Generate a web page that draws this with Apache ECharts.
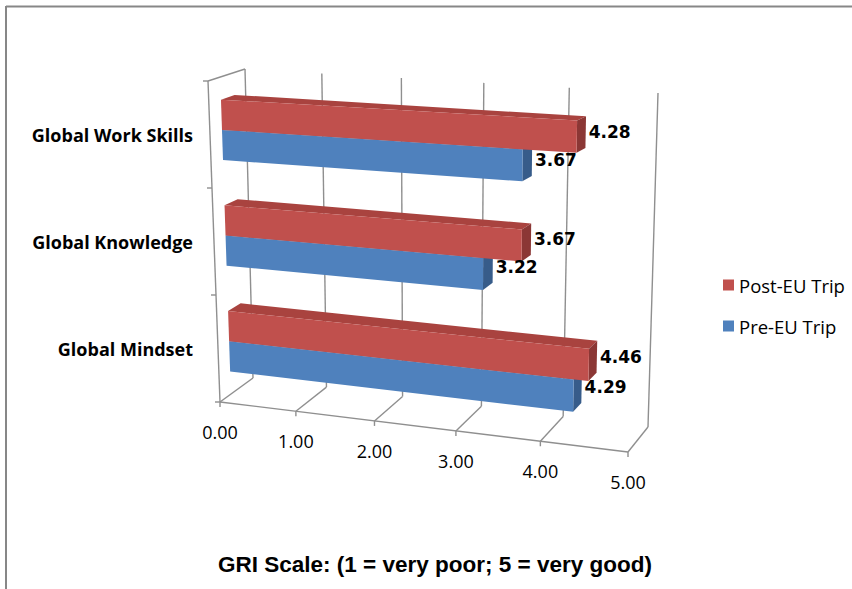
<!DOCTYPE html>
<html><head><meta charset="utf-8">
<script src="https://cdn.jsdelivr.net/npm/echarts@6/dist/echarts.min.js"></script>
<style>html,body{margin:0;padding:0;background:#fff}#c{width:852px;height:589px}</style>
</head><body><div id="c"></div>
<script>
// ---- data ----
const categories = ['Global Mindset', 'Global Knowledge', 'Global Work Skills'];
const postValues = [4.46, 3.67, 4.28];
const preValues = [4.29, 3.22, 3.67];
const valueTicks = [0, 1, 2, 3, 4, 5];
const tickLabels = ['0.00', '1.00', '2.00', '3.00', '4.00', '5.00'];
const seriesNames = ['Post-EU Trip', 'Pre-EU Trip'];
const axisTitle = 'GRI Scale: (1 = very poor; 5 = very good)';

// ---- 3D projection geometry (screen corners of the plot box) ----
const F = {bl: [220, 402], tl: [208, 81], br: [628, 452], tr: [636, 103]};
const B = {bl: [253, 378], tl: [245, 69], br: [648, 427], tr: [658, 93]};
const PERSP = 0.914;
function warp(u) { return u * PERSP / (1 + (PERSP - 1) * u); }
function lerp(a, b, t) { return [a[0] + (b[0] - a[0]) * t, a[1] + (b[1] - a[1]) * t]; }
function bil(Q, u, h) { return lerp(lerp(Q.bl, Q.br, u), lerp(Q.tl, Q.tr, u), h); }
function proj(u, h, d) { const w = warp(u); return lerp(bil(F, w, h), bil(B, w, h), d); }

const BAR_FRAC = 0.2857;
const D0 = 0.33, D1 = 0.70;
const LINE = '#8f8f8f';
const COLORS = {
  post: {front: '#C0504D', top: '#A9433F', end: '#8B3735'},
  pre: {front: '#4F81BD', top: '#416C9F', end: '#375C8A'}
};

function barGeom(params, api, upper) {
  const cs = params.coordSys;
  const v = api.value(0), ci = api.value(1);
  const p0 = api.coord([0, ci]);
  const p1 = api.coord([v, ci]);
  const bh = api.size([0, 1])[1] * BAR_FRAC;
  const yTop = upper ? p0[1] - bh : p0[1];
  const yBot = upper ? p0[1] : p0[1] + bh;
  const toU = x => (x - cs.x) / cs.width;
  const toH = y => 1 - (y - cs.y) / cs.height;
  return {v: v, u0: toU(p0[0]), u1: toU(p1[0]), hT: toH(yTop), hB: toH(yBot)};
}

function barRender(upper) {
  const col = upper ? COLORS.post : COLORS.pre;
  return function (params, api) {
    const g = barGeom(params, api, upper);
    const P = proj;
    const front = [P(g.u0, g.hB, D0), P(g.u1, g.hB, D0), P(g.u1, g.hT, D0), P(g.u0, g.hT, D0)];
    const top = [P(g.u0, g.hT, D0), P(g.u1, g.hT, D0), P(g.u1, g.hT, D1), P(g.u0, g.hT, D1)];
    const end = [P(g.u1, g.hB, D0), P(g.u1, g.hB, D1), P(g.u1, g.hT, D1), P(g.u1, g.hT, D0)];
    return {type: 'group', children: [
      {type: 'polygon', shape: {points: top}, style: {fill: col.top}},
      {type: 'polygon', shape: {points: end}, style: {fill: col.end}},
      {type: 'polygon', shape: {points: front}, style: {fill: col.front}}
    ]};
  };
}

function labelRender(params, api) {
  const upper = api.value(2) === 1;
  const g = barGeom(params, api, upper);
  const p = proj(g.u1, (g.hT + g.hB) / 2, D1);
  return {type: 'text', x: p[0] + 3, y: p[1], style: {
    text: g.v.toFixed(2), fill: '#000', align: 'left', verticalAlign: 'middle',
    fontFamily: 'DejaVu Sans', fontWeight: 'bold', fontSize: 17
  }};
}

function frameRender(params, api) {
  const cs = params.coordSys;
  const idx = params.dataIndex;
  const t = api.value(0);
  const u = (api.coord([t, 0])[0] - cs.x) / cs.width;
  const ls = {stroke: LINE, lineWidth: 1.4, fill: null};
  const L = (a, b) => ({type: 'line', shape: {x1: a[0], y1: a[1], x2: b[0], y2: b[1]}, style: ls});
  const fb = proj(u, 0, 0), bb = proj(u, 0, 1), bt = proj(u, 1, 1);
  const ch = [
    L(fb, bb), L(bb, bt), L(fb, [fb[0], fb[1] + 5]),
    {type: 'text', x: fb[0], y: fb[1] + 30, style: {
      text: tickLabels[idx], fill: '#000', align: 'center', verticalAlign: 'middle',
      fontFamily: 'Open Sans', fontSize: 18
    }}
  ];
  if (idx === 0) {
    const uMax = (api.coord([valueTicks[valueTicks.length - 1], 0])[0] - cs.x) / cs.width;
    const fl0 = proj(0, 0, 0), fl1 = proj(0, 1, 0), bl1 = proj(0, 1, 1), fr0 = proj(uMax, 0, 0);
    ch.push(L(fl0, fl1), L(fl1, bl1), L(fl0, fr0));
    const n = categories.length;
    for (let k = 0; k <= n; k++) {
      const p = proj(0, k / n, 0);
      ch.push(L(p, [p[0] - 5, p[1]]));
    }
  }
  return {type: 'group', children: ch};
}

const chart = echarts.init(document.getElementById('c'), null, {renderer: 'svg'});
chart.setOption({
  animation: false,
  backgroundColor: '#fff',
  grid: {left: 210, top: 81, width: 426, height: 321, containLabel: false},
  xAxis: {type: 'value', min: 0, max: 5, interval: 1, show: false},
  yAxis: {
    type: 'category', data: categories,
    axisLine: {show: false}, axisTick: {show: false}, splitLine: {show: false},
    axisLabel: {
      margin: 17, color: '#000', fontFamily: 'Open Sans', fontWeight: 'bold', fontSize: 18,
      padding: [6, 0, 0, 0]
    }
  },
  legend: {
    data: seriesNames, orient: 'vertical', left: 718, top: 269,
    itemWidth: 11, itemHeight: 11, itemGap: 19, icon: 'rect',
    textStyle: {fontFamily: 'Open Sans', fontSize: 18.5, color: '#000', lineHeight: 22}
  },
  title: {
    text: axisTitle, left: 218, top: 553, padding: 0,
    textStyle: {fontFamily: 'Liberation Sans', fontWeight: 'bold', fontSize: 22.5, color: '#000'}
  },
  graphic: [
    {type: 'line', shape: {x1: 6, y1: 6.5, x2: 852, y2: 6.5}, style: {stroke: '#878787', lineWidth: 2}, silent: true},
    {type: 'line', shape: {x1: 6, y1: 6, x2: 6, y2: 589}, style: {stroke: '#878787', lineWidth: 2}, silent: true}
  ],
  series: [
    {name: 'Frame', type: 'custom', renderItem: frameRender, data: valueTicks.map(t => [t, 0]),
     z: 1, silent: true, clip: false},
    {name: seriesNames[1], type: 'custom', renderItem: barRender(false), data: preValues.map((v, i) => [v, i]),
     z: 2, clip: false, itemStyle: {color: COLORS.pre.front}},
    {name: seriesNames[0], type: 'custom', renderItem: barRender(true), data: postValues.map((v, i) => [v, i]),
     z: 3, clip: false, itemStyle: {color: COLORS.post.front}},
    {name: 'Labels', type: 'custom', renderItem: labelRender, silent: true, clip: false, z: 4,
     data: postValues.map((v, i) => [v, i, 1]).concat(preValues.map((v, i) => [v, i, 0]))}
  ]
});
</script></body></html>
